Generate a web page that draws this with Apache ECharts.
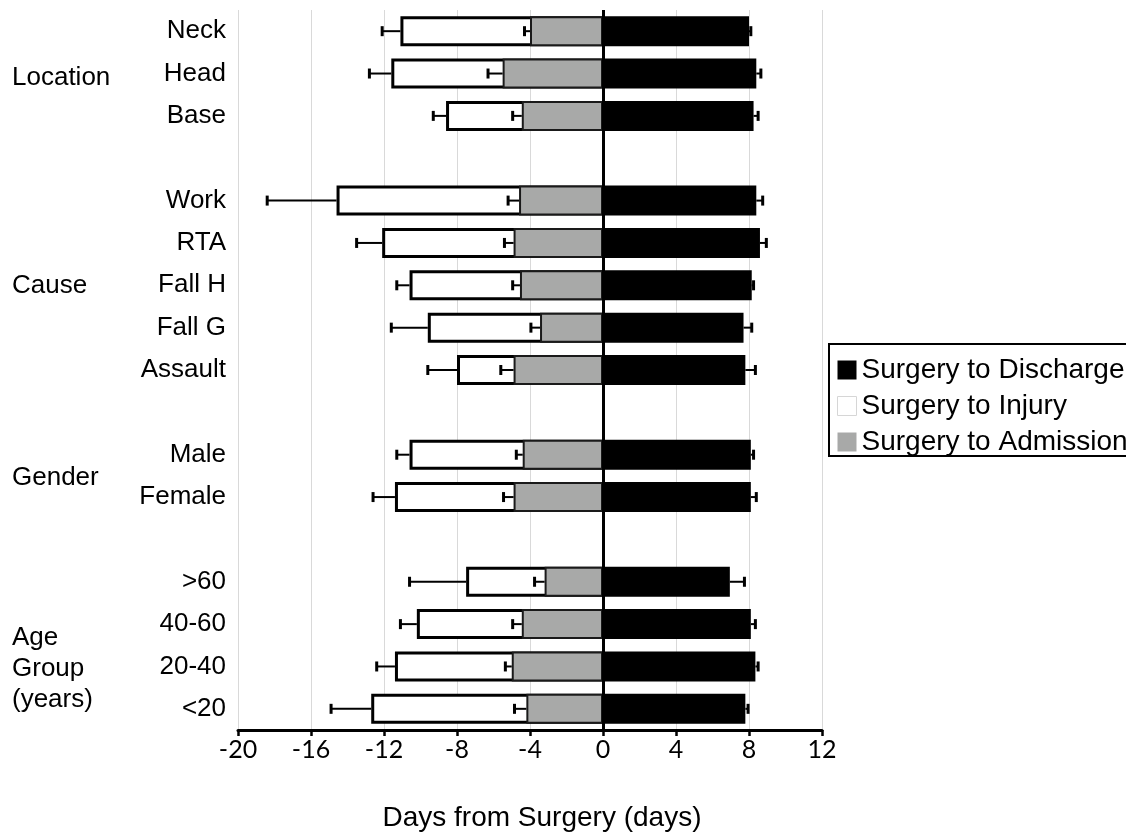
<!DOCTYPE html>
<html>
<head>
<meta charset="utf-8">
<title>Days from Surgery</title>
<script src="https://cdn.jsdelivr.net/npm/echarts@6/dist/echarts.min.js"></script>
<style>
  html, body { margin: 0; padding: 0; background: #fff; }
  #chart { width: 1126px; height: 832px; }
</style>
</head>
<body>
<div id="chart"></div>
<script>
// Rows from top to bottom; blank rows separate the groups.
const categories = ['Neck', 'Head', 'Base', ' ', 'Work', 'RTA', 'Fall H', 'Fall G', 'Assault', '  ',
  'Male', 'Female', '   ', '>60', '40-60', '20-40', '<20'];

// Mean days (negative = before surgery) and their error half-widths.
const injury       = [-11.1, -11.6, -8.6, null, -14.6, -12.1, -10.6, -9.6, -8.0, null, -10.6, -11.4, null, -7.5, -10.2, -11.4, -12.7];
const injuryErr    = [1.0, 1.2, 0.7, null, 3.8, 1.4, 0.7, 2.0, 1.6, null, 0.7, 1.2, null, 3.1, 0.9, 1.0, 2.2];
const admission    = [-4.0, -5.5, -4.45, null, -4.6, -4.9, -4.55, -3.45, -4.9, null, -4.4, -4.9, null, -3.2, -4.45, -5.0, -4.2];
const admissionErr = [0.3, 0.8, 0.5, null, 0.6, 0.5, 0.4, 0.5, 0.7, null, 0.35, 0.55, null, 0.55, 0.5, 0.35, 0.65];
const discharge    = [8.0, 8.4, 8.25, null, 8.4, 8.6, 8.15, 7.7, 7.8, null, 8.1, 8.1, null, 6.95, 8.1, 8.35, 7.8];
const dischargeErr = [0.1, 0.25, 0.25, null, 0.35, 0.35, 0.1, 0.45, 0.55, null, 0.15, 0.3, null, 0.8, 0.25, 0.15, 0.15];

const xTicks = { min: -20, max: 12, interval: 4 };
const seriesNames = ['Surgery to Discharge', 'Surgery to Injury', 'Surgery to Admission'];
const axisTitle = 'Days from Surgery (days)';

// Group headings and the rows they sit beside.
const groups = [
  { text: 'Location', row: 1, dy: 4 },
  { text: 'Cause', row: 6, dy: 1 },
  { text: 'Gender', row: 10.5, dy: 2 },
  { text: 'Age\nGroup\n(years)', row: 15, dy: 2 }
];

const ARIAL = '"Liberation Sans", Arial, sans-serif';
const TICKFONT = 'Lato, "Liberation Sans", sans-serif';
const GREY = '#a8a9a8';
const LABEL_SIZE = 26;
const LINE_H = 31;

// Error bar data: [bar end, whisker end, row index]
function errData(vals, errs) {
  const out = [];
  vals.forEach((v, i) => {
    if (v === null || errs[i] === null) return;
    const s = v < 0 ? -1 : 1;
    out.push([v, v + s * errs[i], i]);
  });
  return out;
}

function renderErr(params, api) {
  const row = api.value(2);
  const p0 = api.coord([api.value(0), row]);
  const p1 = api.coord([api.value(1), row]);
  const cap = 5;
  return {
    type: 'group',
    children: [
      { type: 'line', shape: { x1: p0[0], y1: p0[1], x2: p1[0], y2: p1[1] }, style: { stroke: '#000', lineWidth: 2 } },
      { type: 'line', shape: { x1: p1[0], y1: p1[1] - cap, x2: p1[0], y2: p1[1] + cap }, style: { stroke: '#000', lineWidth: 3 } }
    ]
  };
}

function errSeries(name, vals, errs) {
  return {
    name: name,
    type: 'custom',
    renderItem: renderErr,
    encode: { x: [0, 1], y: 2 },
    data: errData(vals, errs),
    z: 10,
    silent: true
  };
}

const chart = echarts.init(document.getElementById('chart'), null, { renderer: 'canvas' });

chart.setOption({
  animation: false,
  backgroundColor: '#fff',
  grid: { left: 238, right: 304, top: 10, bottom: 102, containLabel: false, outerBoundsMode: 'none' },
  legend: {
    orient: 'vertical',
    left: 829,
    top: 344,
    padding: [12, 40, 0, 8],
    borderColor: '#000',
    borderWidth: 2,
    itemWidth: 19,
    itemHeight: 19,
    itemGap: 8,
    icon: 'rect',
    textStyle: { fontFamily: ARIAL, fontSize: 28, color: '#000', lineHeight: 28 },
    selectedMode: false,
    data: [
      { name: seriesNames[0], itemStyle: { color: '#000', borderWidth: 0 } },
      { name: seriesNames[1], itemStyle: { color: '#fff', borderColor: '#d6d6d6', borderWidth: 1 } },
      { name: seriesNames[2], itemStyle: { color: GREY, borderWidth: 0 } }
    ]
  },
  xAxis: {
    type: 'value',
    min: xTicks.min,
    max: xTicks.max,
    interval: xTicks.interval,
    name: axisTitle,
    nameLocation: 'middle',
    nameGap: 74,
    nameTextStyle: { fontFamily: ARIAL, fontSize: 28, color: '#000', padding: [0, 0, 0, 24] },
    axisLine: { show: true, onZero: false, lineStyle: { color: '#000', width: 3 } },
    axisTick: { show: true, length: 6, lineStyle: { color: '#000', width: 2.5 } },
    axisLabel: { fontFamily: TICKFONT, fontSize: 25, color: '#000', margin: 7 },
    splitLine: { show: true, lineStyle: { color: '#d9d9d9', width: 1 } }
  },
  yAxis: {
    type: 'category',
    inverse: true,
    data: categories,
    axisLine: { show: false },
    axisTick: { show: false },
    axisLabel: { fontFamily: ARIAL, fontSize: LABEL_SIZE, color: '#000', margin: 12 },
    splitLine: { show: false }
  },
  series: [
    {
      name: seriesNames[1],
      type: 'bar',
      data: injury,
      barWidth: 30,
      barGap: '-100%',
      itemStyle: { color: '#fff', borderColor: '#000', borderWidth: 3 },
      z: 2
    },
    {
      name: seriesNames[2],
      type: 'bar',
      data: admission,
      barWidth: 30,
      barGap: '-100%',
      itemStyle: { color: GREY, borderColor: '#1a1a1a', borderWidth: 2 },
      z: 3
    },
    {
      name: seriesNames[0],
      type: 'bar',
      data: discharge,
      barWidth: 30,
      barGap: '-100%',
      itemStyle: { color: '#000', borderColor: '#000', borderWidth: 2 },
      z: 3,
      markLine: {
        silent: true,
        symbol: 'none',
        label: { show: false },
        lineStyle: { color: '#000', width: 3, type: 'solid' },
        data: [{ xAxis: 0 }],
        z: 12
      }
    },
    errSeries('injury-err', injury, injuryErr),
    errSeries('admission-err', admission, admissionErr),
    errSeries('discharge-err', discharge, dischargeErr)
  ]
});

// Group headings placed beside their rows.
const graphics = groups.map(g => {
  const a = chart.convertToPixel({ yAxisIndex: 0 }, Math.floor(g.row));
  const b = chart.convertToPixel({ yAxisIndex: 0 }, Math.ceil(g.row));
  const y = (a + b) / 2 + g.dy;
  const lines = g.text.split('\n').length;
  return {
    type: 'text',
    left: 12,
    top: y - (lines * LINE_H) / 2,
    style: {
      text: g.text,
      fill: '#000',
      fontFamily: ARIAL,
      fontSize: LABEL_SIZE,
      lineHeight: LINE_H
    }
  };
});
chart.setOption({ graphic: graphics });
</script>
</body>
</html>
